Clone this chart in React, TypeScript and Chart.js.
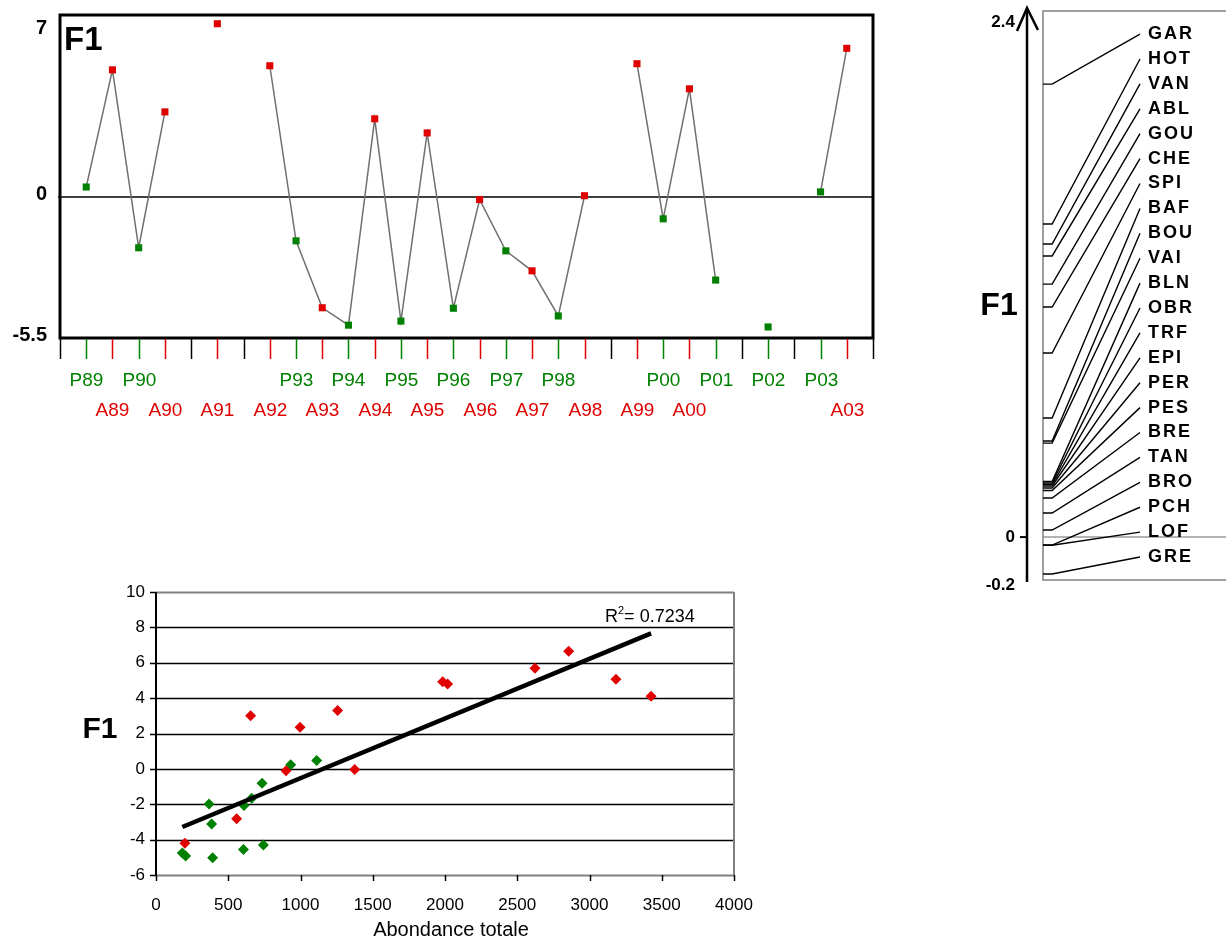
import React, { useEffect, useRef } from "react";
import { Chart, registerables } from "chart.js";

Chart.register(...registerables);

// ---------------- Top chart: F1 per sample (P = green, A = red) ----------------
const slotLabels = [
  "", "P89", "A89", "P90", "A90", "", "A91", "", "A92", "P93", "A93", "P94", "A94", "P95", "A95",
  "P96", "A96", "P97", "A97", "P98", "A98", "", "A99", "P00", "A00", "P01", "", "P02", "", "P03", "A03", "",
];
const f1Values: (number | null)[] = [
  null, 0.39, 4.96, -1.98, 3.32, null, 6.76, null, 5.12, -1.71, -4.32, -5.0, 3.05, -4.84, 2.5,
  -4.34, -0.1, -2.1, -2.88, -4.64, 0.05, null, 5.2, -0.85, 4.22, -3.24, null, -5.07, null, 0.2, 5.8, null,
];
const topYTicks = [7, 0, -5.5];

// ---------------- Right panel: species scores on F1 ----------------
const speciesNames = [
  "GAR", "HOT", "VAN", "ABL", "GOU", "CHE", "SPI", "BAF", "BOU", "VAI", "BLN",
  "OBR", "TRF", "EPI", "PER", "PES", "BRE", "TAN", "BRO", "PCH", "LOF", "GRE",
];
const speciesF1 = [
  2.111, 1.459, 1.366, 1.31, 1.179, 1.072, 0.858, 0.555, 0.448, 0.438, 0.259,
  0.252, 0.245, 0.238, 0.229, 0.217, 0.182, 0.112, 0.033, -0.037, -0.038, -0.172,
];
const speciesTicks = [2.4, 0, -0.2];

// ---------------- Bottom scatter: F1 vs total abundance ----------------
const redAbundance = [200, 655, 558, 900, 997, 1257, 1375, 1984, 2018, 2623, 2856, 3183, 3426];
const redF1 = [-4.2, 3.01, -2.82, -0.11, 2.36, 3.3, -0.04, 4.93, 4.8, 5.69, 6.65, 5.07, 4.11];
const greenAbundance = [182, 205, 367, 385, 392, 605, 609, 662, 734, 743, 932, 1112];
const greenF1 = [-4.76, -4.92, -1.98, -3.11, -5.03, -4.56, -2.07, -1.66, -0.81, -4.31, 0.23, 0.47];
const scatterXTicks = [0, 500, 1000, 1500, 2000, 2500, 3000, 3500, 4000];
const scatterYTicks = [-6, -4, -2, 0, 2, 4, 6, 8, 10];
const r2Text = "0.7234";

const GREEN = "#008000";
const RED = "#E00000";
const FONT = '"Liberation Sans", Arial, sans-serif';

function TopChart() {
  const ref = useRef<HTMLCanvasElement>(null);
  useEffect(() => {
    const colorOf = (l: string) => (l.startsWith("P") ? GREEN : l.startsWith("A") ? RED : "#000");
    const decor = {
      id: "topDecor",
      beforeDatasetsDraw(chart: any) {
        const { ctx, chartArea: a, scales } = chart;
        const y0 = scales.y.getPixelForValue(0);
        ctx.save();
        ctx.strokeStyle = "#000";
        ctx.lineWidth = 1.5;
        ctx.beginPath();
        ctx.moveTo(a.left - 2, y0);
        ctx.lineTo(a.right, y0);
        ctx.stroke();
        ctx.restore();
      },
      afterDraw(chart: any) {
        const { ctx, chartArea: a, scales } = chart;
        const x = scales.x;
        const y = scales.y;
        ctx.save();
        ctx.strokeStyle = "#000";
        ctx.lineWidth = 3;
        ctx.strokeRect(a.left, a.top, a.right - a.left, a.bottom - a.top);
        slotLabels.forEach((l, i) => {
          const px = Math.round(x.getPixelForValue(i)) + 0.5;
          ctx.strokeStyle = colorOf(l);
          ctx.lineWidth = 1.5;
          ctx.beginPath();
          ctx.moveTo(px, a.bottom + 1);
          ctx.lineTo(px, a.bottom + 21);
          ctx.stroke();
          if (l) {
            ctx.fillStyle = colorOf(l);
            ctx.font = `19px ${FONT}`;
            ctx.textAlign = "center";
            ctx.textBaseline = "middle";
            ctx.fillText(l, px, a.bottom + (l[0] === "P" ? 43 : 73));
          }
        });
        ctx.fillStyle = "#000";
        ctx.font = `bold 20px ${FONT}`;
        ctx.textAlign = "right";
        ctx.textBaseline = "middle";
        topYTicks.forEach((v) => {
          const py = Math.max(y.getPixelForValue(v) - 3, a.top + 13);
          ctx.fillText(String(v), a.left - 13, py);
        });
        ctx.font = `bold 33px ${FONT}`;
        ctx.textAlign = "left";
        ctx.fillText("F1", a.left + 4, a.top + 26);
        ctx.restore();
      },
    };
    const chart = new Chart(ref.current!, {
      type: "line",
      data: {
        labels: slotLabels.map((l, i) => l || `s${i}`),
        datasets: [
          {
            data: f1Values as any,
            borderColor: "#707070",
            borderWidth: 1.5,
            spanGaps: false,
            pointStyle: "rect",
            pointRadius: 5,
            pointBorderWidth: 0,
            pointBackgroundColor: slotLabels.map(colorOf),
            pointBorderColor: slotLabels.map(colorOf),
            tension: 0,
            clip: false as any,
          },
        ],
      },
      options: {
        responsive: false,
        animation: false,
        events: [],
        layout: { padding: { left: 60, right: 27, top: 15, bottom: 102 } },
        plugins: { legend: { display: false }, tooltip: { enabled: false } },
        scales: {
          x: { display: false, offset: false },
          y: { display: false, min: -5.5, max: 7.1 },
        },
      },
      plugins: [decor],
    });
    return () => chart.destroy();
  }, []);
  return <canvas ref={ref} width={900} height={440} style={{ position: "absolute", left: 0, top: 0 }} />;
}

function SpeciesPanel() {
  const ref = useRef<HTMLCanvasElement>(null);
  useEffect(() => {
    const LEAD_X1 = 0.05;
    const LEAD_X2 = 0.53;
    const LABEL_TOP = 2.344;
    const LABEL_BOTTOM = -0.093;
    const n = speciesNames.length;
    const labelValue = (i: number) => LABEL_TOP - (i * (LABEL_TOP - LABEL_BOTTOM)) / (n - 1);
    const decor = {
      id: "speciesDecor",
      beforeDatasetsDraw(chart: any) {
        const { ctx, chartArea: a, scales } = chart;
        const y0 = scales.y.getPixelForValue(0);
        ctx.save();
        ctx.strokeStyle = "#9a9a9a";
        ctx.lineWidth = 1.5;
        ctx.beginPath();
        ctx.moveTo(a.left, y0);
        ctx.lineTo(a.right, y0);
        ctx.stroke();
        ctx.strokeStyle = "#808080";
        ctx.lineWidth = 1.5;
        ctx.beginPath();
        ctx.moveTo(a.right, a.top - 1);
        ctx.lineTo(a.left, a.top - 1);
        ctx.lineTo(a.left, a.bottom);
        ctx.lineTo(a.right, a.bottom);
        ctx.stroke();
        ctx.restore();
      },
      afterDraw(chart: any) {
        const { ctx, chartArea: a, scales } = chart;
        const x = scales.x;
        const y = scales.y;
        ctx.save();
        ctx.fillStyle = "#000";
        ctx.font = `bold 18px ${FONT}`;
        (ctx as any).letterSpacing = "2px";
        ctx.textAlign = "left";
        ctx.textBaseline = "middle";
        const lx = x.getPixelForValue(LEAD_X2) + 8;
        speciesNames.forEach((name, i) => {
          ctx.fillText(name, lx, y.getPixelForValue(labelValue(i)));
        });
        (ctx as any).letterSpacing = "0px";
        // arrow axis
        const ax = a.left - 16;
        ctx.strokeStyle = "#000";
        ctx.lineWidth = 2.5;
        ctx.beginPath();
        ctx.moveTo(ax, a.bottom + 2);
        ctx.lineTo(ax, 9);
        ctx.stroke();
        ctx.beginPath();
        ctx.moveTo(ax - 10, 31);
        ctx.lineTo(ax, 8);
        ctx.lineTo(ax + 11, 30);
        ctx.stroke();
        ctx.font = `bold 17px ${FONT}`;
        ctx.textAlign = "right";
        speciesTicks.forEach((v) => {
          let py = y.getPixelForValue(v);
          if (v === 0) {
            ctx.lineWidth = 2;
            ctx.beginPath();
            ctx.moveTo(ax - 7, py);
            ctx.lineTo(ax, py);
            ctx.stroke();
          }
          if (v < 0) py += 5;
          ctx.fillText(String(v), ax - 12, py);
        });
        ctx.font = `bold 32px ${FONT}`;
        ctx.textAlign = "center";
        ctx.fillText("F1", 24, 306);
        ctx.restore();
      },
    };
    const chart = new Chart(ref.current!, {
      type: "scatter",
      data: {
        datasets: speciesF1.map((v, i) => ({
          data: [
            { x: 0, y: v },
            { x: LEAD_X1, y: v },
            { x: LEAD_X2, y: labelValue(i) },
          ],
          showLine: true,
          borderColor: "#000",
          borderWidth: 1.4,
          pointRadius: 0,
          tension: 0,
        })),
      },
      options: {
        responsive: false,
        animation: false,
        events: [],
        layout: { padding: { left: 68, right: 0, top: 12, bottom: 20 } },
        plugins: { legend: { display: false }, tooltip: { enabled: false } },
        scales: {
          x: { display: false, type: "linear", min: 0, max: 1 },
          y: { display: false, min: -0.2, max: 2.447 },
        },
      },
      plugins: [decor],
    });
    return () => chart.destroy();
  }, []);
  return <canvas ref={ref} width={251} height={600} style={{ position: "absolute", left: 975, top: 0 }} />;
}

function ScatterChart() {
  const ref = useRef<HTMLCanvasElement>(null);
  useEffect(() => {
    const xs = [...redAbundance, ...greenAbundance];
    const ys = [...redF1, ...greenF1];
    const mx = xs.reduce((s, v) => s + v, 0) / xs.length;
    const my = ys.reduce((s, v) => s + v, 0) / ys.length;
    let sxy = 0;
    let sxx = 0;
    xs.forEach((xv, i) => {
      sxy += (xv - mx) * (ys[i] - my);
      sxx += (xv - mx) * (xv - mx);
    });
    const slope = sxy / sxx;
    const icpt = my - slope * mx;
    const xmin = Math.min(...xs);
    const xmax = Math.max(...xs);

    const decor = {
      id: "scatterDecor",
      beforeDatasetsDraw(chart: any) {
        const { ctx, chartArea: a, scales } = chart;
        const x = scales.x;
        const y = scales.y;
        ctx.save();
        scatterYTicks.forEach((v) => {
          const py = Math.round(y.getPixelForValue(v)) + 0.5;
          const edge = v === scatterYTicks[0] || v === scatterYTicks[scatterYTicks.length - 1];
          ctx.strokeStyle = edge ? "#808080" : "#000";
          ctx.lineWidth = edge ? 2 : 1.5;
          ctx.beginPath();
          ctx.moveTo(a.left, py);
          ctx.lineTo(a.right, py);
          ctx.stroke();
          ctx.strokeStyle = "#000";
          ctx.lineWidth = 1.5;
          ctx.beginPath();
          ctx.moveTo(a.left - 6, py);
          ctx.lineTo(a.left, py);
          ctx.stroke();
        });
        ctx.strokeStyle = "#808080";
        ctx.lineWidth = 2;
        ctx.beginPath();
        ctx.moveTo(a.right, a.top);
        ctx.lineTo(a.right, a.bottom);
        ctx.stroke();
        ctx.strokeStyle = "#000";
        ctx.lineWidth = 2;
        ctx.beginPath();
        ctx.moveTo(a.left, a.top);
        ctx.lineTo(a.left, a.bottom);
        ctx.stroke();
        ctx.lineWidth = 1.5;
        scatterXTicks.forEach((v) => {
          const px = Math.round(x.getPixelForValue(v)) + 0.5;
          ctx.beginPath();
          ctx.moveTo(px, a.bottom);
          ctx.lineTo(px, a.bottom + 6);
          ctx.stroke();
        });
        ctx.restore();
      },
      afterDraw(chart: any) {
        const { ctx, chartArea: a, scales } = chart;
        const x = scales.x;
        const y = scales.y;
        ctx.save();
        ctx.fillStyle = "#000";
        ctx.font = `17px ${FONT}`;
        ctx.textBaseline = "middle";
        ctx.textAlign = "right";
        scatterYTicks.forEach((v) => ctx.fillText(String(v), a.left - 11, y.getPixelForValue(v)));
        ctx.textAlign = "center";
        scatterXTicks.forEach((v) => ctx.fillText(String(v), x.getPixelForValue(v), a.bottom + 30));
        ctx.font = `20px ${FONT}`;
        ctx.fillText("Abondance totale", (a.left + a.right) / 2 + 6, a.bottom + 55);
        ctx.font = `bold 30px ${FONT}`;
        ctx.fillText("F1", 100, 160);
        // R² label
        ctx.textAlign = "left";
        ctx.textBaseline = "alphabetic";
        let tx = 605;
        const ty = 52;
        ctx.font = `18px ${FONT}`;
        ctx.fillText("R", tx, ty);
        tx += ctx.measureText("R").width;
        ctx.font = `11px ${FONT}`;
        ctx.fillText("2", tx, ty - 8);
        tx += ctx.measureText("2").width;
        ctx.font = `18px ${FONT}`;
        ctx.fillText("= " + r2Text, tx, ty);
        ctx.restore();
      },
    };

    const chart = new Chart(ref.current!, {
      type: "scatter",
      data: {
        datasets: [
          {
            data: [
              { x: xmin, y: icpt + slope * xmin },
              { x: xmax, y: icpt + slope * xmax },
            ],
            showLine: true,
            borderColor: "#000",
            borderWidth: 4.5,
            pointRadius: 0,
          },
          {
            data: redAbundance.map((v, i) => ({ x: v, y: redF1[i] })),
            pointStyle: "rectRot",
            pointRadius: 5.5,
            pointBorderWidth: 0,
            backgroundColor: RED,
            borderColor: RED,
          },
          {
            data: greenAbundance.map((v, i) => ({ x: v, y: greenF1[i] })),
            pointStyle: "rectRot",
            pointRadius: 5.5,
            pointBorderWidth: 0,
            backgroundColor: GREEN,
            borderColor: GREEN,
          },
        ],
      },
      options: {
        responsive: false,
        animation: false,
        events: [],
        layout: { padding: { left: 156, right: 46, top: 22, bottom: 63 } },
        plugins: { legend: { display: false }, tooltip: { enabled: false } },
        scales: {
          x: { display: false, type: "linear", min: 0, max: 4000 },
          y: { display: false, min: -6, max: 10 },
        },
      },
      plugins: [decor],
    });
    return () => chart.destroy();
  }, []);
  return <canvas ref={ref} width={780} height={368} style={{ position: "absolute", left: 0, top: 570 }} />;
}

export default function App() {
  useEffect(() => {
    document.body.style.margin = "0";
    document.body.style.background = "#fff";
  }, []);
  return (
    <div style={{ position: "relative", width: 1226, height: 938, background: "#fff", overflow: "hidden" }}>
      <TopChart />
      <SpeciesPanel />
      <ScatterChart />
    </div>
  );
}
